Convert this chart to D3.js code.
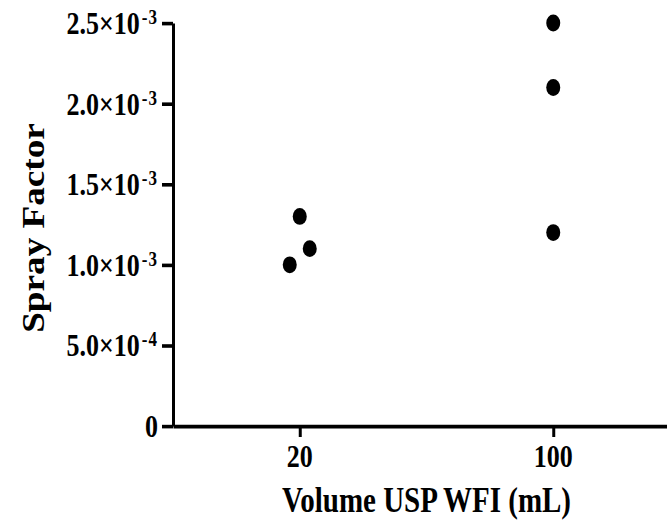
<!DOCTYPE html>
<html>
<head>
<meta charset="utf-8">
<script src="https://cdn.jsdelivr.net/npm/d3@7"></script>
<style>
  html, body { margin: 0; padding: 0; background: #fff; }
  svg { display: block; }
  text { font-family: "Liberation Serif", "Times New Roman", serif; font-weight: bold; fill: #000; }
</style>
</head>
<body>
<div id="chart"></div>
<script>
// Column scatter: spray factor by volume of USP WFI
const categories = ["20", "100"];
const values20 = [1.0e-3, 1.3e-3, 1.1e-3];
const values100 = [2.5e-3, 2.1e-3, 1.2e-3];
const yTicks = [0, 0.5e-3, 1.0e-3, 1.5e-3, 2.0e-3, 2.5e-3];
const xTitle = "Volume USP WFI (mL)";
const yTitle = "Spray Factor";

const points = [
  ...values20.map(v => ({ cat: "20", value: v })),
  ...values100.map(v => ({ cat: "100", value: v }))
];

const W = 667, H = 524;
// the figure is drawn in a frame that is stretched vertically on output
const stretch = 1.2;
const VH = H / stretch;

const svg = d3.select("#chart").append("svg")
  .attr("width", W).attr("height", H)
  .attr("viewBox", `0 0 ${W} ${VH}`)
  .attr("preserveAspectRatio", "none");

const x = d3.scalePoint().domain(categories).range([173, 680]).padding(0.5);
const y = d3.scaleLinear().domain([0, 2.5e-3]).range([426 / stretch, 23 / stretch]);

const dotR = 7;
const dotSpacing = 20;

// spread overlapping dots of a column side by side
categories.forEach(cat => {
  const grp = points.filter(p => p.cat === cat).sort((a, b) => a.value - b.value);
  const clusters = [];
  grp.forEach((p, i) => {
    if (i > 0 && Math.abs(y(p.value) - y(grp[i - 1].value)) < 2 * dotR) {
      clusters[clusters.length - 1].push(p);
    } else {
      clusters.push([p]);
    }
  });
  clusters.forEach(c => c.forEach((p, i) => { p.dx = (i - (c.length - 1) / 2) * dotSpacing; }));
});

// axes
const yAxis = d3.axisLeft(y).tickValues(yTicks).tickSize(11).tickSizeOuter(0).tickFormat("");
const gy = svg.append("g").attr("transform", "translate(173,0)").call(yAxis);
const xAxis = d3.axisBottom(x).tickSize(11 / stretch).tickSizeOuter(0).tickFormat("");
const gx = svg.append("g").attr("transform", `translate(0,${426 / stretch})`).call(xAxis);

[gx, gy].forEach(g => {
  g.select(".domain").attr("stroke", "#000").attr("stroke-width", 3);
  g.selectAll(".tick line").attr("stroke", "#000").attr("stroke-width", 3);
});

// y tick labels in scientific notation
const yLabels = svg.append("g");
yTicks.forEach(v => {
  const t = yLabels.append("text")
    .attr("x", 158)
    .attr("y", y(v) + 11 / stretch)
    .attr("text-anchor", "end")
    .style("font-size", "26px");
  if (v === 0) {
    t.text("0");
  } else {
    const e = Math.floor(Math.log10(v) + 1e-9);
    const m = (v / Math.pow(10, e)).toFixed(1);
    t.append("tspan").text(m + "\u00d710");
    t.append("tspan").attr("dx", 2).attr("dy", -10 / stretch)
      .style("font-size", "17px").style("letter-spacing", "1px").text(String(e));
  }
});

// x tick labels
svg.append("g").selectAll("text").data(categories).join("text")
  .attr("x", d => x(d))
  .attr("y", 467 / stretch)
  .attr("text-anchor", "middle")
  .style("font-size", "26px")
  .text(d => d);

// axis titles
svg.append("text")
  .attr("x", (x.range()[0] + x.range()[1]) / 2)
  .attr("y", 512 / stretch)
  .attr("text-anchor", "middle")
  .style("font-size", "29px")
  .text(xTitle);

svg.append("text")
  .attr("transform", `translate(44,${228 / stretch}) rotate(-90)`)
  .attr("text-anchor", "middle")
  .style("font-size", "31px")
  .text(yTitle);

// dots
svg.append("g").selectAll("circle").data(points).join("circle")
  .attr("cx", d => x(d.cat) + d.dx)
  .attr("cy", d => y(d.value))
  .attr("r", dotR)
  .attr("fill", "#000");
</script>
</body>
</html>
